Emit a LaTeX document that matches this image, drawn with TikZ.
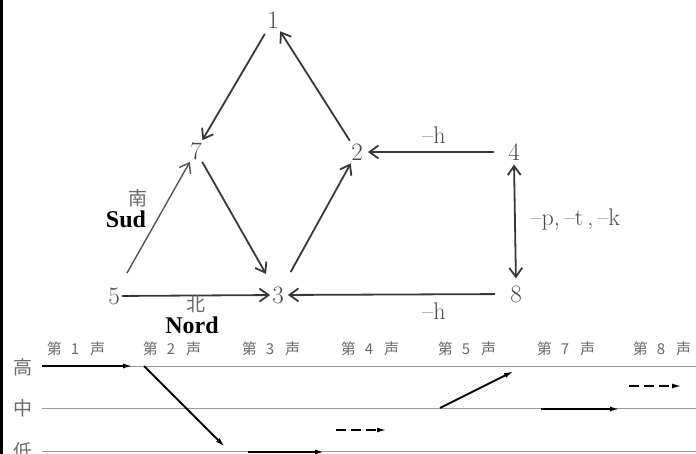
\documentclass[tikz,border=0pt]{standalone}
\usepackage{fontspec}
\newfontfamily\cjk{Noto Sans CJK SC}
\newfontfamily\tms{Liberation Serif}
\usetikzlibrary{arrows.meta}
\definecolor{numgray}{HTML}{4A4A4A}
\definecolor{linegray}{HTML}{383838}
\definecolor{lightline}{HTML}{555555}
\definecolor{cngray}{HTML}{6A6A6A}
\definecolor{gridgray}{HTML}{9A9A9A}
\begin{document}
\begin{tikzpicture}[x=1pt,y=-1pt,
  num/.style={inner sep=2pt, text=numgray, font=\fontsize{25}{28}\selectfont},
  garrow/.style={draw=linegray, line width=1.8pt, >={Straight Barb[length=9pt,width=13pt]}, ->},
  lbl/.style={text=numgray, font=\fontsize{24}{28}\selectfont},
  cnlbl/.style={text=cngray, font=\cjk\fontsize{19}{22}\selectfont},
  frlbl/.style={text=black, font=\tms\bfseries\fontsize{24}{28}\selectfont},
  collbl/.style={text=cngray, font=\cjk\fontsize{15}{17}\selectfont},
  rowlbl/.style={text=cngray, font=\cjk\fontsize{19}{21}\selectfont},
  gridline/.style={draw=gridgray, line width=1pt},
  tone/.style={draw=black, line width=1.8pt, -{Latex[length=10pt,width=5pt]}},
  dashtone/.style={tone, dash pattern=on 10pt off 5pt},
]
\useasboundingbox (0,0) rectangle (696,454);
\fill[white] (0,0) rectangle (696,454);
\fill[black] (0,0) rectangle (2.5,454);

% graph nodes
\node[num] (n1) at (273,20) {1};
\node[num] (n7) at (196,151) {7};
\node[num] (n2) at (357,152) {2};
\node[num] (n4) at (514,152) {4};
\node[num] (n5) at (114,296) {5};
\node[num] (n3) at (278,295) {3};
\node[num] (n8) at (516,294) {8};

% connectors
\draw[garrow, shorten <=4pt] (n1) -- (n7);
\draw[garrow, shorten <=1pt, shorten >=1pt] (n2) -- (n1);
\draw[garrow, shorten >=12pt] (n7) -- (n3);
\draw[garrow, shorten <=14pt, shorten >=1pt] (n3) -- (n2);
\draw[garrow, draw=lightline, line width=1.4pt, shorten <=14pt] (n5) -- (n7);
\draw[garrow] (n5) -- (n3);
\draw[garrow, shorten <=13pt, shorten >=2pt] (n8) -- (n3);
\draw[garrow, shorten <=12pt, shorten >=3pt] (n4) -- (n2);
\draw[garrow, <->, shorten <=2pt, shorten >=5pt] (n4.south) -- (n8.north);

% labels
\node[lbl] (h1) at (434,135) {\textendash h};
\node[lbl] (h2) at (434,311) {\textendash h};
\node[lbl, anchor=west] (ptk) at (527,220) {\textendash p,\,\textendash t\,,\,\textendash k};
\node[cnlbl] (nan) at (138,198) {南};
\node[frlbl] (sud) at (126,219) {Sud};
\node[cnlbl] (bei) at (196,304) {北};
\node[frlbl] (nord) at (192,325) {Nord};

% tone chart
\foreach \x/\d in {76/1,172/2,271/3,370/4,467/5,566/7,662/8}
  \node[collbl] at (\x,349) {第\hspace{9pt}\d\hspace{11pt}声};
\node[rowlbl] (gao) at (23,367) {高};
\node[rowlbl] (zhong) at (23,408) {中};
\node[rowlbl] (di) at (23,451) {低};
\draw[gridline] (42,366) -- (696,366);
\draw[gridline] (42,408) -- (696,408);
\draw[gridline] (42,451) -- (696,451);

\draw[tone] (42,366) -- (133,366);
\draw[tone] (144,366) -- (225,447);
\draw[tone, line width=2.4pt] (248,452) -- (325,452);
\draw[dashtone] (336,430) -- (387,430);
\draw[tone] (440,408) -- (514,371);
\draw[tone] (541,409) -- (620,409);
\draw[dashtone] (629,386) -- (682,386);
\end{tikzpicture}
\end{document}
